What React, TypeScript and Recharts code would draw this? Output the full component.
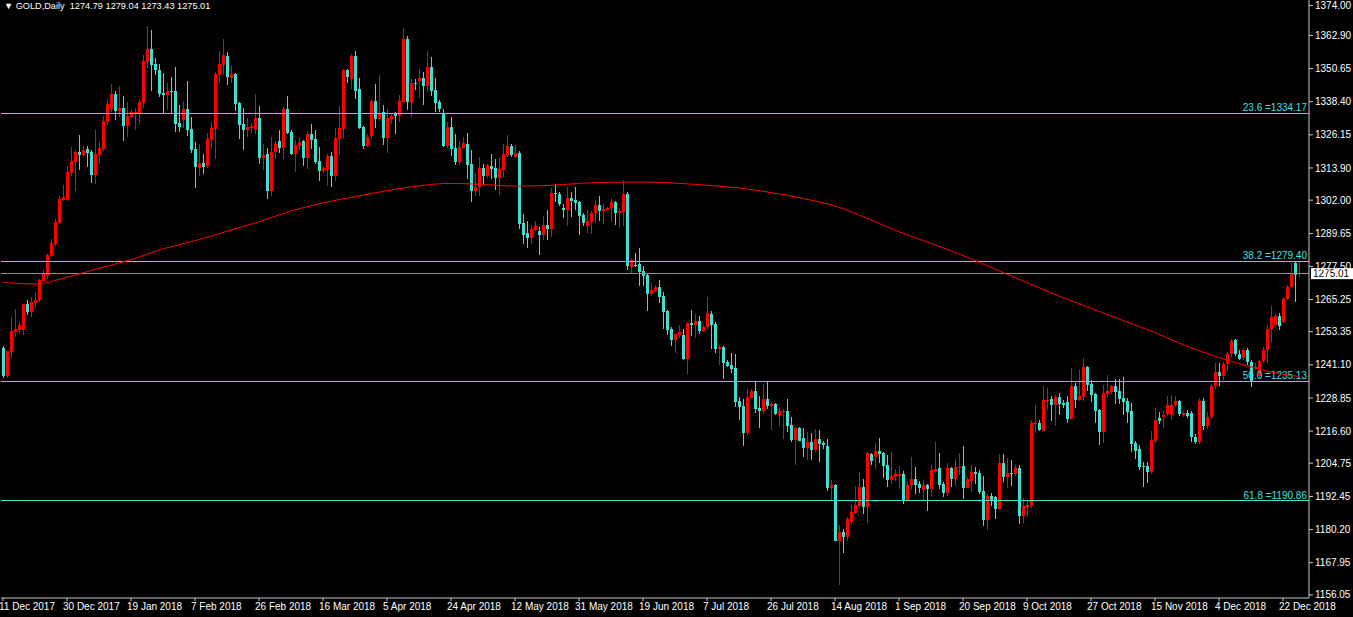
import React from "react";
import { ComposedChart, Bar, Line, XAxis, YAxis, ReferenceLine } from "recharts";

const FONT = "'Liberation Sans', Arial, sans-serif";
const BULL = "#ff0000";
const BEAR = "#40e0d0";
const FIB = "#40e0e0";

const tickDates = [
  "11 Dec 2017", "30 Dec 2017", "19 Jan 2018", "7 Feb 2018", "26 Feb 2018",
  "16 Mar 2018", "5 Apr 2018", "24 Apr 2018", "12 May 2018", "31 May 2018",
  "19 Jun 2018", "7 Jul 2018", "26 Jul 2018", "14 Aug 2018", "1 Sep 2018",
  "20 Sep 2018", "9 Oct 2018", "27 Oct 2018", "15 Nov 2018", "4 Dec 2018",
  "22 Dec 2018",
];
const barsPerTick = 16;

const priceTicks = [
  1374.0, 1362.9, 1350.65, 1338.4, 1326.15, 1313.9, 1302.0, 1289.65, 1277.5,
  1265.25, 1253.35, 1241.1, 1228.85, 1216.6, 1204.75, 1192.45, 1180.2, 1167.95, 1156.05,
];

const fibLevels: [string, number][] = [
  ["23.6", 1334.17],
  ["38.2", 1279.4],
  ["50.0", 1235.13],
  ["61.8", 1190.86],
];

const lastPrice = 1275.01;
const headerValues = ["1274.79", "1279.04", "1273.43", "1275.01"];

// daily candles: open, high, low, close
const ohlc: [number, number, number, number][] = [
  [1247.5, 1247.9, 1236.1, 1236.8], [1236.8, 1246.2, 1236.4, 1246.2], [1246.0, 1258.8, 1243.8, 1253.6],
  [1253.3, 1261.8, 1251.5, 1254.5], [1254.0, 1256.8, 1253.0, 1255.9], [1254.0, 1263.6, 1252.2, 1263.6],
  [1263.6, 1265.1, 1259.5, 1260.5], [1260.5, 1266.2, 1258.9, 1264.4], [1263.9, 1268.1, 1262.0, 1265.1],
  [1265.1, 1273.0, 1264.5, 1272.5], [1272.1, 1276.1, 1271.6, 1274.7], [1274.1, 1282.1, 1272.9, 1281.7],
  [1281.4, 1287.7, 1281.1, 1286.2], [1285.8, 1295.0, 1285.0, 1293.9], [1293.4, 1303.7, 1293.2, 1302.4],
  [1302.1, 1307.6, 1301.8, 1303.2], [1302.1, 1314.6, 1301.8, 1312.4], [1312.0, 1321.7, 1310.9, 1316.5],
  [1316.1, 1320.5, 1305.4, 1319.8], [1319.8, 1326.1, 1313.2, 1318.7], [1318.7, 1322.0, 1317.8, 1320.5],
  [1320.9, 1322.0, 1314.3, 1319.4], [1319.8, 1320.5, 1308.4, 1311.3], [1311.3, 1328.0, 1308.0, 1319.1],
  [1318.7, 1323.5, 1315.4, 1321.3], [1320.9, 1333.1, 1320.2, 1331.3], [1330.9, 1339.4, 1329.8, 1337.6],
  [1335.7, 1345.0, 1334.5, 1341.3], [1341.3, 1342.4, 1331.6, 1335.1], [1335.1, 1344.2, 1332.9, 1336.1],
  [1336.1, 1340.5, 1324.0, 1329.4], [1329.4, 1338.3, 1325.5, 1333.1], [1332.8, 1335.4, 1332.4, 1334.6],
  [1334.2, 1336.1, 1327.9, 1334.6], [1334.2, 1339.0, 1330.6, 1338.3], [1337.9, 1355.7, 1336.1, 1353.5],
  [1353.1, 1366.4, 1350.9, 1357.9], [1357.9, 1364.9, 1342.4, 1352.0], [1352.3, 1354.6, 1348.3, 1350.1],
  [1350.1, 1352.3, 1340.1, 1341.3], [1341.6, 1349.0, 1334.2, 1340.9], [1340.9, 1345.3, 1335.3, 1342.4],
  [1342.4, 1347.5, 1333.9, 1342.1], [1342.4, 1351.2, 1327.2, 1330.2], [1330.5, 1337.2, 1327.2, 1329.0],
  [1331.6, 1338.7, 1328.7, 1335.7], [1335.7, 1346.0, 1325.7, 1327.9], [1328.3, 1332.7, 1319.4, 1320.5],
  [1320.9, 1323.5, 1306.5, 1314.3], [1313.9, 1322.8, 1310.9, 1315.7], [1315.7, 1319.1, 1311.7, 1314.3],
  [1314.6, 1326.8, 1313.9, 1324.6], [1324.3, 1330.9, 1320.9, 1328.7], [1328.3, 1349.4, 1317.2, 1348.6],
  [1348.3, 1357.1, 1345.3, 1352.3], [1352.0, 1361.5, 1348.3, 1355.7], [1355.3, 1356.8, 1344.6, 1347.5],
  [1347.2, 1351.6, 1345.3, 1348.6], [1348.6, 1349.0, 1335.0, 1337.5], [1337.9, 1338.3, 1324.6, 1329.8],
  [1330.1, 1336.1, 1320.5, 1327.9], [1327.9, 1332.4, 1325.4, 1329.1], [1328.7, 1330.5, 1326.8, 1329.4],
  [1327.9, 1341.2, 1326.5, 1332.4], [1332.4, 1336.8, 1315.4, 1317.6], [1317.6, 1322.8, 1313.2, 1318.7],
  [1319.1, 1321.3, 1302.4, 1305.4], [1305.4, 1325.4, 1303.5, 1319.8], [1319.8, 1323.9, 1317.2, 1322.8],
  [1323.9, 1327.9, 1319.4, 1321.3], [1321.3, 1336.4, 1317.2, 1335.7], [1335.7, 1340.5, 1326.5, 1326.8],
  [1327.2, 1327.9, 1318.7, 1319.1], [1319.1, 1324.2, 1312.4, 1322.4], [1322.0, 1325.4, 1320.5, 1323.5],
  [1323.9, 1324.2, 1314.6, 1317.6], [1317.6, 1327.6, 1313.5, 1326.5], [1326.5, 1330.2, 1320.9, 1324.2],
  [1324.6, 1327.9, 1315.4, 1316.1], [1316.5, 1321.7, 1309.1, 1312.8], [1312.8, 1314.6, 1312.1, 1313.9],
  [1313.2, 1319.1, 1307.2, 1318.3], [1318.3, 1319.8, 1306.9, 1310.9], [1310.9, 1328.7, 1309.1, 1325.0],
  [1324.6, 1336.8, 1318.7, 1328.7], [1328.3, 1350.5, 1324.6, 1350.1], [1350.1, 1350.5, 1345.3, 1347.5],
  [1346.8, 1356.0, 1343.1, 1355.3], [1355.3, 1357.1, 1339.4, 1342.4], [1343.1, 1347.2, 1328.3, 1328.7],
  [1329.0, 1329.4, 1320.9, 1322.0], [1322.0, 1326.5, 1321.7, 1325.4], [1325.7, 1339.0, 1324.6, 1338.7],
  [1338.7, 1344.9, 1328.7, 1332.0], [1332.0, 1348.3, 1331.3, 1334.2], [1334.6, 1337.2, 1322.4, 1325.0],
  [1325.0, 1335.7, 1319.4, 1332.4], [1332.0, 1333.9, 1330.2, 1333.1], [1334.2, 1334.6, 1326.5, 1333.1],
  [1333.1, 1340.9, 1330.9, 1338.7], [1338.3, 1365.6, 1337.9, 1361.6], [1361.6, 1362.7, 1335.3, 1338.3],
  [1337.9, 1346.8, 1332.8, 1345.3], [1345.3, 1346.8, 1342.7, 1344.9], [1346.1, 1350.5, 1339.8, 1347.2],
  [1347.2, 1349.4, 1337.2, 1344.2], [1344.2, 1357.0, 1342.0, 1351.2], [1351.2, 1355.0, 1340.5, 1342.4],
  [1342.7, 1347.2, 1334.6, 1337.9], [1338.3, 1339.0, 1334.6, 1335.7], [1333.9, 1335.7, 1321.6, 1322.0],
  [1322.0, 1330.9, 1321.3, 1329.1], [1329.1, 1332.7, 1318.3, 1320.9], [1321.3, 1326.5, 1315.0, 1316.1],
  [1316.1, 1323.9, 1315.0, 1321.7], [1321.3, 1325.4, 1320.9, 1323.1], [1322.8, 1326.8, 1309.8, 1315.0],
  [1315.4, 1320.5, 1301.3, 1305.4], [1305.4, 1312.0, 1303.5, 1306.9], [1306.9, 1318.0, 1303.5, 1313.9],
  [1313.9, 1315.4, 1307.6, 1310.9], [1310.9, 1315.4, 1310.2, 1315.0], [1314.6, 1319.1, 1309.8, 1313.5],
  [1313.9, 1317.2, 1305.8, 1310.2], [1310.2, 1318.0, 1303.9, 1313.5], [1313.2, 1322.8, 1310.6, 1319.1],
  [1318.7, 1326.1, 1318.0, 1322.0], [1322.0, 1322.8, 1318.0, 1318.7], [1318.0, 1322.4, 1317.6, 1319.4],
  [1319.4, 1320.2, 1291.3, 1293.2], [1293.6, 1296.9, 1285.8, 1289.1], [1289.9, 1294.3, 1284.3, 1288.0],
  [1288.0, 1292.8, 1285.8, 1291.3], [1291.0, 1294.3, 1290.6, 1292.5], [1290.6, 1292.1, 1281.7, 1289.1],
  [1289.1, 1296.1, 1287.3, 1292.8], [1292.8, 1298.4, 1287.3, 1291.3], [1291.3, 1306.5, 1288.4, 1304.6],
  [1304.6, 1308.0, 1301.3, 1304.3], [1304.3, 1305.0, 1299.8, 1300.6], [1299.1, 1300.6, 1295.4, 1298.4],
  [1298.4, 1306.9, 1292.5, 1302.8], [1302.8, 1305.0, 1295.8, 1301.7], [1302.1, 1306.9, 1298.4, 1301.0],
  [1301.3, 1301.7, 1289.1, 1296.1], [1296.5, 1297.3, 1292.5, 1293.6], [1292.5, 1298.4, 1289.9, 1294.3],
  [1293.9, 1298.0, 1289.5, 1297.3], [1297.3, 1302.1, 1293.6, 1300.2], [1300.2, 1303.5, 1294.3, 1298.0],
  [1298.0, 1300.6, 1293.2, 1298.7], [1298.4, 1299.5, 1298.0, 1299.1], [1299.1, 1302.8, 1293.9, 1301.3],
  [1301.3, 1301.7, 1292.8, 1297.3], [1297.3, 1299.1, 1291.7, 1298.0], [1297.6, 1309.5, 1292.5, 1304.3],
  [1304.3, 1305.0, 1276.2, 1277.7], [1277.3, 1280.6, 1275.1, 1279.9], [1278.2, 1282.5, 1277.3, 1277.9],
  [1278.4, 1284.3, 1270.3, 1275.4], [1275.8, 1277.7, 1270.3, 1274.0], [1274.3, 1274.7, 1261.0, 1267.3],
  [1267.3, 1271.4, 1266.6, 1268.8], [1268.4, 1270.6, 1268.1, 1269.9], [1269.9, 1272.5, 1264.0, 1266.2],
  [1266.6, 1268.1, 1254.4, 1260.7], [1261.0, 1261.4, 1252.2, 1254.0], [1254.4, 1255.1, 1248.1, 1250.3],
  [1250.3, 1252.9, 1245.5, 1252.5], [1252.2, 1255.9, 1251.1, 1253.3], [1252.2, 1254.4, 1243.0, 1243.3],
  [1243.3, 1256.9, 1237.7, 1256.6], [1256.6, 1261.4, 1251.8, 1255.9], [1255.9, 1259.9, 1251.1, 1257.3],
  [1257.3, 1259.2, 1252.5, 1253.6], [1253.6, 1255.9, 1253.3, 1255.1], [1255.1, 1266.2, 1254.4, 1260.3],
  [1259.9, 1261.0, 1247.0, 1255.9], [1256.2, 1257.0, 1245.5, 1247.0], [1247.0, 1248.5, 1241.1, 1247.7],
  [1247.7, 1248.1, 1235.9, 1241.8], [1242.2, 1242.9, 1240.3, 1240.7], [1241.1, 1245.5, 1238.1, 1239.6],
  [1240.0, 1245.1, 1225.5, 1227.4], [1227.8, 1229.2, 1220.7, 1225.5], [1225.9, 1228.5, 1211.1, 1215.9],
  [1215.9, 1232.2, 1215.2, 1229.2], [1228.9, 1232.2, 1228.5, 1231.5], [1231.5, 1234.8, 1223.3, 1224.8],
  [1225.2, 1229.6, 1217.8, 1224.1], [1224.1, 1234.0, 1222.9, 1228.5], [1228.5, 1234.8, 1224.8, 1225.9],
  [1225.9, 1227.4, 1217.0, 1226.6], [1226.6, 1227.0, 1222.6, 1222.9], [1222.6, 1225.2, 1218.5, 1224.1],
  [1223.7, 1224.8, 1213.7, 1224.1], [1224.1, 1228.5, 1216.3, 1218.5], [1218.9, 1221.8, 1212.6, 1213.3],
  [1213.3, 1218.1, 1204.1, 1217.8], [1217.8, 1218.1, 1212.8, 1213.0], [1214.1, 1217.8, 1207.1, 1210.4],
  [1210.4, 1216.3, 1205.9, 1212.6], [1212.6, 1215.9, 1205.9, 1209.6], [1209.6, 1217.4, 1208.9, 1213.7],
  [1213.7, 1217.0, 1205.2, 1211.9], [1212.2, 1213.0, 1210.0, 1211.5], [1211.1, 1213.7, 1194.5, 1195.6],
  [1195.6, 1198.5, 1191.2, 1196.7], [1196.7, 1196.9, 1175.8, 1176.0], [1176.0, 1181.9, 1159.7, 1179.3],
  [1179.3, 1180.4, 1171.5, 1177.5], [1177.5, 1184.9, 1175.8, 1184.1], [1183.0, 1189.7, 1182.3, 1186.7],
  [1186.3, 1196.3, 1186.0, 1189.3], [1188.9, 1201.5, 1188.6, 1196.0], [1196.0, 1198.9, 1186.0, 1188.6],
  [1188.6, 1208.7, 1182.6, 1208.5], [1208.2, 1208.5, 1204.1, 1205.6], [1207.1, 1212.2, 1202.6, 1209.3],
  [1209.3, 1214.1, 1204.8, 1208.2], [1208.5, 1208.9, 1199.3, 1203.7], [1204.1, 1207.8, 1196.0, 1198.6],
  [1198.6, 1208.9, 1197.1, 1200.0], [1199.7, 1202.6, 1198.2, 1200.8], [1200.0, 1203.7, 1195.2, 1200.8],
  [1200.8, 1201.9, 1189.7, 1191.2], [1191.2, 1198.2, 1190.8, 1196.7], [1196.7, 1207.1, 1194.9, 1198.9],
  [1198.9, 1203.4, 1193.4, 1196.7], [1197.1, 1198.2, 1193.8, 1195.6], [1194.9, 1198.6, 1191.2, 1196.7],
  [1196.7, 1197.1, 1187.1, 1195.2], [1195.2, 1204.1, 1192.3, 1202.3], [1201.9, 1212.6, 1201.1, 1202.6],
  [1203.0, 1208.5, 1195.2, 1196.7], [1197.1, 1197.8, 1192.3, 1193.8], [1193.8, 1204.8, 1192.6, 1203.0],
  [1203.0, 1203.4, 1196.0, 1198.9], [1198.9, 1206.3, 1196.3, 1203.4], [1203.0, 1208.5, 1200.4, 1203.4],
  [1203.7, 1211.1, 1191.5, 1195.6], [1195.6, 1199.7, 1195.4, 1198.9], [1198.2, 1204.1, 1194.1, 1201.5],
  [1201.5, 1203.4, 1197.1, 1200.8], [1201.1, 1202.3, 1193.4, 1194.1], [1194.5, 1200.0, 1181.6, 1183.8],
  [1183.8, 1193.4, 1180.1, 1192.6], [1192.6, 1193.7, 1188.9, 1190.8], [1192.3, 1192.6, 1184.1, 1187.8],
  [1187.8, 1208.2, 1187.5, 1204.8], [1204.8, 1208.2, 1197.8, 1199.7], [1199.7, 1206.7, 1195.6, 1201.1],
  [1201.1, 1205.9, 1196.3, 1200.8], [1200.8, 1204.1, 1200.0, 1203.0], [1203.0, 1204.1, 1182.3, 1185.2],
  [1185.2, 1191.9, 1182.6, 1188.9], [1188.6, 1191.2, 1184.9, 1189.3], [1188.9, 1220.7, 1188.2, 1219.6],
  [1219.3, 1226.3, 1215.9, 1219.6], [1219.6, 1220.7, 1216.8, 1217.0], [1216.7, 1233.3, 1216.5, 1228.1],
  [1227.8, 1232.6, 1224.4, 1228.1], [1228.5, 1229.6, 1220.4, 1226.3], [1226.3, 1230.0, 1218.5, 1229.2],
  [1229.2, 1230.7, 1222.6, 1226.6], [1227.0, 1228.1, 1225.2, 1226.3], [1227.4, 1229.6, 1219.6, 1221.1],
  [1221.1, 1240.0, 1220.7, 1233.3], [1233.3, 1234.4, 1225.2, 1228.1], [1228.1, 1239.2, 1227.8, 1229.6],
  [1229.2, 1243.6, 1227.8, 1240.3], [1240.3, 1240.5, 1231.5, 1233.7], [1234.0, 1235.5, 1227.4, 1230.0],
  [1230.3, 1230.7, 1219.6, 1224.1], [1224.4, 1224.8, 1211.5, 1216.3], [1216.3, 1233.7, 1212.2, 1230.7],
  [1230.3, 1237.4, 1229.2, 1231.5], [1231.1, 1233.7, 1230.3, 1233.3], [1233.3, 1235.9, 1226.6, 1231.1],
  [1231.5, 1235.9, 1226.6, 1228.5], [1228.9, 1236.6, 1222.6, 1227.4], [1227.8, 1228.9, 1219.6, 1223.7],
  [1224.1, 1227.0, 1208.9, 1211.9], [1212.2, 1213.0, 1206.3, 1209.3], [1210.0, 1211.5, 1202.3, 1203.4],
  [1203.7, 1205.2, 1196.0, 1203.4], [1203.7, 1205.2, 1197.4, 1201.5], [1201.5, 1216.7, 1200.8, 1213.3],
  [1213.0, 1225.2, 1212.2, 1220.7], [1221.5, 1223.7, 1219.3, 1220.4], [1221.8, 1224.1, 1217.8, 1222.6],
  [1222.9, 1229.6, 1222.3, 1226.3], [1222.6, 1230.0, 1220.7, 1226.3], [1226.3, 1229.6, 1225.5, 1227.8],
  [1227.8, 1228.1, 1222.3, 1222.9], [1222.6, 1224.1, 1222.0, 1223.3], [1223.3, 1224.4, 1221.5, 1222.3],
  [1223.3, 1224.1, 1212.7, 1214.6], [1214.6, 1215.4, 1212.0, 1212.6], [1212.4, 1228.8, 1212.0, 1227.9],
  [1227.9, 1229.0, 1217.0, 1218.5], [1218.5, 1223.5, 1217.5, 1222.0], [1222.0, 1234.0, 1221.0, 1233.1],
  [1233.1, 1241.9, 1232.0, 1238.5], [1238.5, 1241.9, 1233.1, 1237.0], [1237.0, 1242.0, 1235.5, 1241.3],
  [1241.3, 1246.0, 1239.0, 1245.1], [1245.1, 1250.5, 1244.0, 1250.0], [1250.3, 1250.8, 1244.4, 1245.1],
  [1245.1, 1246.6, 1242.9, 1243.4], [1243.6, 1247.2, 1242.9, 1246.6], [1246.6, 1247.2, 1241.1, 1242.2],
  [1242.2, 1242.9, 1233.0, 1234.9], [1239.8, 1241.7, 1239.2, 1240.4], [1236.8, 1242.9, 1236.1, 1242.4],
  [1242.4, 1247.8, 1241.7, 1246.6], [1246.6, 1255.9, 1241.7, 1254.3], [1254.3, 1262.9, 1249.7, 1258.9],
  [1255.9, 1259.9, 1255.0, 1259.2], [1259.2, 1260.2, 1254.0, 1255.5], [1257.1, 1266.3, 1256.7, 1265.6],
  [1265.6, 1270.6, 1265.1, 1270.0], [1270.0, 1278.7, 1269.4, 1275.2], [1278.6, 1279.3, 1264.5, 1274.3],
  [1274.79, 1279.04, 1273.43, 1275.01],
];

// moving average read at every 8th bar: [bar index, value]
const maPoints: [number, number][] = [
  [0, 1271.6], [8, 1271.0], [16, 1273.5], [24, 1276.8], [32, 1280.0], [40, 1284.0],
  [48, 1287.0], [56, 1290.5], [64, 1294.0], [72, 1298.0], [80, 1301.0], [88, 1303.3],
  [96, 1305.5], [104, 1307.3], [112, 1308.2], [120, 1307.8], [128, 1307.2], [136, 1307.4],
  [144, 1308.2], [152, 1308.6], [160, 1308.7], [168, 1308.3], [176, 1307.5], [184, 1306.5],
  [192, 1304.8], [200, 1302.6], [208, 1299.8], [216, 1295.3], [224, 1290.3], [232, 1286.0],
  [240, 1281.5], [248, 1276.5], [256, 1271.5], [264, 1266.5], [272, 1262.0], [280, 1257.5],
  [288, 1253.0], [296, 1248.0], [304, 1243.8], [312, 1240.3], [320, 1237.6], [324, 1236.8],
];

// empty bars to the right of the last candle (chart shift)
const emptyBars = 2;

const maByBar = new Map(maPoints);
const rows = Array.from({ length: ohlc.length + emptyBars }, (_, i) => {
  const c = ohlc[i];
  if (!c) return { i };
  return { i, open: c[0], high: c[1], low: c[2], close: c[3], range: [c[2], c[1]], ma: maByBar.get(i) };
});

function Candle(props: any) {
  const { x, y, height, payload } = props;
  if (!payload || payload.range == null) return null;
  const { open, high, low, close } = payload;
  const top0 = Math.min(y, y + height);
  const h = Math.abs(height);
  const k = high > low ? h / (high - low) : 0;
  const py = (v: number) => top0 + (high - v) * k;
  const color = close >= open ? BULL : BEAR;
  const left = Math.round(x);
  const wickTop = Math.round(top0);
  const wickBottom = Math.round(top0 + h);
  const bodyTop = Math.round(py(Math.max(open, close)));
  const bodyBottom = Math.round(py(Math.min(open, close)));
  return (
    <g shapeRendering="crispEdges">
      <rect x={left + 1} y={wickTop} width={1} height={Math.max(1, wickBottom - wickTop)} fill={color} />
      <rect x={left} y={bodyTop} width={3} height={Math.max(1, bodyBottom - bodyTop)} fill={color} />
    </g>
  );
}

function DateTick(props: any) {
  const { x, y, payload } = props;
  return (
    <text x={x - 4} y={y} dy="0.71em" textAnchor="start" fill="#ffffff" fontSize={10} fontFamily={FONT}>
      {tickDates[payload.value / barsPerTick]}
    </text>
  );
}

function FibLabel(props: any) {
  const { viewBox, text } = props;
  if (!viewBox) return null;
  return (
    <text x={viewBox.x + viewBox.width - 2} y={viewBox.y - 2} textAnchor="end" fill={FIB} fontSize={10} fontFamily={FONT}>
      {text}
    </text>
  );
}

function PriceBox(props: any) {
  const { viewBox } = props;
  if (!viewBox) return null;
  const left = viewBox.x + viewBox.width + 2;
  return (
    <g>
      <rect x={left} y={viewBox.y - 5} width={44} height={11} fill="#ffffff" />
      <text x={left + 2} y={viewBox.y + 4} fill="#000000" fontSize={10} fontFamily={FONT}>
        {lastPrice.toFixed(2)}
      </text>
    </g>
  );
}

export default function App() {
  return (
    <div style={{ position: "fixed", left: 0, top: 0, width: 1353, height: 617, background: "#000000" }}>
      <ComposedChart width={1353} height={617} data={rows} margin={{ top: 0, right: 0, bottom: 0, left: 1 }}>
        <XAxis
          dataKey="i"
          type="category"
          ticks={tickDates.map((_, j) => j * barsPerTick)}
          interval={0}
          height={19}
          tick={<DateTick />}
          tickSize={3}
          tickMargin={2}
          stroke="#c8c8c8"
        />
        <YAxis
          orientation="right"
          width={44}
          domain={[1154.9, 1376.0]}
          allowDataOverflow
          ticks={priceTicks}
          interval={0}
          tickFormatter={(v: number) => v.toFixed(2)}
          tick={{ fill: "#ffffff", fontSize: 10, fontFamily: FONT }}
          tickSize={4}
          tickMargin={2}
          stroke="#c8c8c8"
        />
        {fibLevels.map(([lvl, price]) => (
          <ReferenceLine
            key={lvl}
            y={price}
            stroke={FIB}
            strokeWidth={1}
            shapeRendering="crispEdges"
            label={<FibLabel text={`${lvl} =${price.toFixed(2)}`} />}
          />
        ))}
        <ReferenceLine y={lastPrice} stroke="#909090" strokeWidth={1} shapeRendering="crispEdges" label={<PriceBox />} />
        <Bar dataKey="range" barSize={3} shape={<Candle />} isAnimationActive={false} />
        <Line
          dataKey="ma"
          type="monotone"
          stroke="#ff0000"
          strokeWidth={1}
          dot={false}
          activeDot={false}
          connectNulls
          isAnimationActive={false}
        />
      </ComposedChart>
      <div
        style={{
          position: "absolute",
          left: 4,
          top: 0,
          color: "#ffffff",
          fontFamily: FONT,
          fontSize: 9.2,
          lineHeight: "12px",
          whiteSpace: "pre",
        }}
      >
        {"\u25BC GOLD,Daily  " + headerValues.join(" ")}
      </div>
    </div>
  );
}
